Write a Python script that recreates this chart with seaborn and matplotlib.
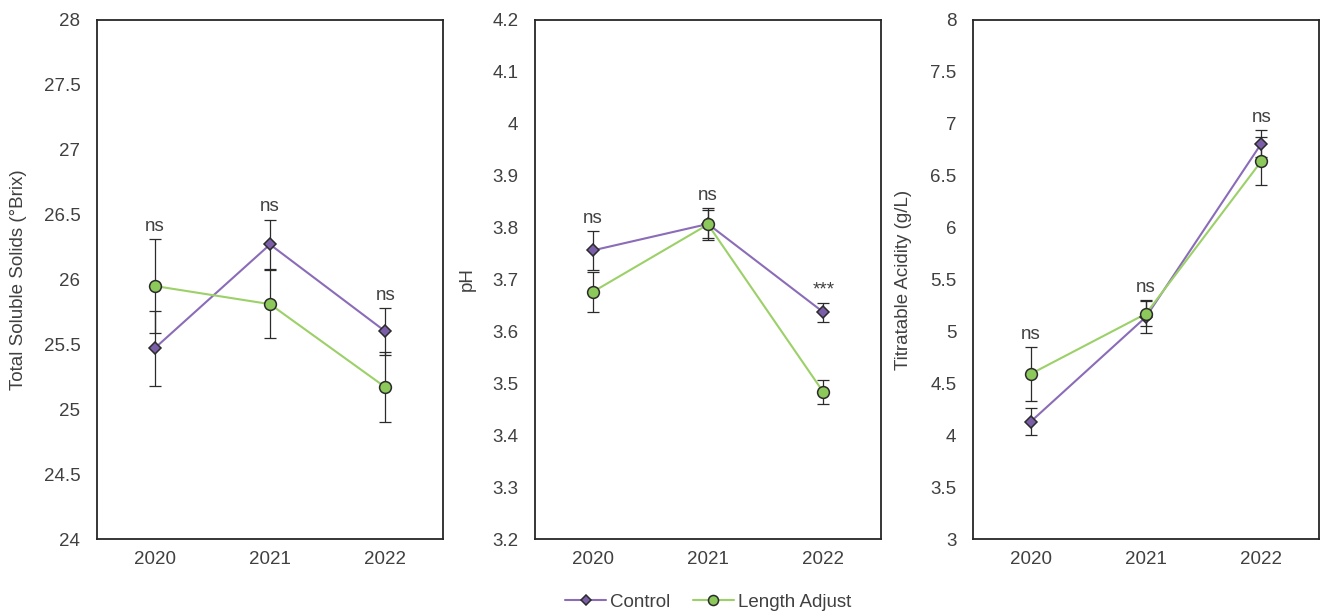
import numpy as np
import pandas as pd
import matplotlib
matplotlib.use("Agg")
import matplotlib.pyplot as plt
import seaborn as sns
from matplotlib.ticker import FuncFormatter, MultipleLocator

sns.set_theme(style="white")
plt.rcParams['font.family'] = ['Liberation Sans', 'DejaVu Sans']

years = ["2020", "2021", "2022"]
treatments = ["Control", "Length Adjust"]

# Total soluble solids (°Brix)
tss_control = [25.47, 26.27, 25.60]
tss_control_se = [0.29, 0.19, 0.18]
tss_la = [25.95, 25.81, 25.17]
tss_la_se = [0.36, 0.26, 0.27]
tss_sig = ["ns", "ns", "ns"]

# pH
ph_control = [3.756, 3.807, 3.637]
ph_control_se = [0.037, 0.031, 0.018]
ph_la = [3.676, 3.806, 3.483]
ph_la_se = [0.039, 0.027, 0.023]
ph_sig = ["ns", "ns", "***"]

# Titratable acidity (g/L)
ta_control = [4.13, 5.14, 6.81]
ta_control_se = [0.13, 0.16, 0.13]
ta_la = [4.59, 5.17, 6.64]
ta_la_se = [0.26, 0.12, 0.23]
ta_sig = ["ns", "ns", "ns"]

panels = [
    dict(c=tss_control, cse=tss_control_se, l=tss_la, lse=tss_la_se, sig=tss_sig,
         ylabel="Total Soluble Solids (°Brix)", ylim=(24, 28), step=0.5),
    dict(c=ph_control, cse=ph_control_se, l=ph_la, lse=ph_la_se, sig=ph_sig,
         ylabel="pH", ylim=(3.2, 4.2), step=0.1),
    dict(c=ta_control, cse=ta_control_se, l=ta_la, lse=ta_la_se, sig=ta_sig,
         ylabel="Titratable Acidity (g/L)", ylim=(3, 8), step=0.5),
]

line_colors = {"Control": "#8A6CB8", "Length Adjust": "#9CD068"}
marker_fill = {"Control": "#7A5FA8", "Length Adjust": "#8CC85A"}
markers = {"Control": "D", "Length Adjust": "o"}
msize = {"Control": 6, "Length Adjust": 8.5}
edge = "#2B2B2B"
text_color = "#404040"

fig = plt.figure(figsize=(13.2, 6.15), dpi=100)
W, H = 1320, 615
lefts = [97, 535, 973]
ylab_x = [-0.203, -0.171, -0.176]
axes = []
for i, p in enumerate(panels):
    ax = fig.add_axes([lefts[i] / W, (H - 539) / H, 346 / W, 519 / H])
    axes.append(ax)
    df = pd.DataFrame({
        "Year": years * 2,
        "Treatment": ["Control"] * 3 + ["Length Adjust"] * 3,
        "Value": list(p["c"]) + list(p["l"]),
        "SE": list(p["cse"]) + list(p["lse"]),
    })
    for t in treatments:
        sub = df[df["Treatment"] == t]
        ax.errorbar(sub["Year"], sub["Value"], yerr=sub["SE"], fmt="none",
                    ecolor="#2B2B2B", elinewidth=0.9, capsize=4.5, capthick=0.9, zorder=2)
    sns.lineplot(data=df, x="Year", y="Value", hue="Treatment", ax=ax,
                 palette=line_colors, legend=False, linewidth=1.5, zorder=3,
                 errorbar=None, sort=False)
    for t in treatments:
        sub = df[df["Treatment"] == t]
        ax.plot(sub["Year"], sub["Value"], linestyle="none", marker=markers[t],
                markersize=msize[t], markerfacecolor=marker_fill[t],
                markeredgecolor=edge, markeredgewidth=1.1, zorder=4)
    # significance labels
    tops = np.maximum(np.array(p["c"]) + np.array(p["cse"]),
                      np.array(p["l"]) + np.array(p["lse"]))
    for j, s in enumerate(p["sig"]):
        ax.annotate(s, xy=(j, tops[j]), xytext=(0, 6), textcoords="offset points",
                    ha="center", va="baseline", fontsize=13.5, color=text_color)
    ax.set_xlim(-0.5, 2.5)
    ax.set_ylim(*p["ylim"])
    ax.yaxis.set_major_locator(MultipleLocator(p["step"]))
    ax.yaxis.set_major_formatter(FuncFormatter(lambda v, pos: f"{round(v, 4):g}"))
    ax.set_xlabel("")
    ax.set_ylabel(p["ylabel"], fontsize=13.5, color=text_color)
    ax.yaxis.set_label_coords(ylab_x[i], 0.5)
    ax.tick_params(axis="both", length=0, labelsize=13.5, labelcolor=text_color)
    ax.tick_params(axis="y", pad=12)
    ax.tick_params(axis="x", pad=9)
    for sp in ax.spines.values():
        sp.set_visible(True)
        sp.set_color("#262626")
        sp.set_linewidth(1.3)
    ax.grid(False)

from matplotlib.lines import Line2D
handles = [Line2D([0], [0], color=line_colors[t], linewidth=1.5, marker=markers[t],
                  markersize=msize[t] * 0.85, markerfacecolor=marker_fill[t],
                  markeredgecolor=edge, markeredgewidth=1.1) for t in treatments]
fig.legend(handles, treatments, loc="center", bbox_to_anchor=(708 / W, 1 - 602 / H),
           ncol=2, frameon=False, fontsize=13.5, handlelength=2.2, columnspacing=1.2,
           handletextpad=0.2, labelcolor=text_color)

fig.savefig("out.png", dpi=100)
